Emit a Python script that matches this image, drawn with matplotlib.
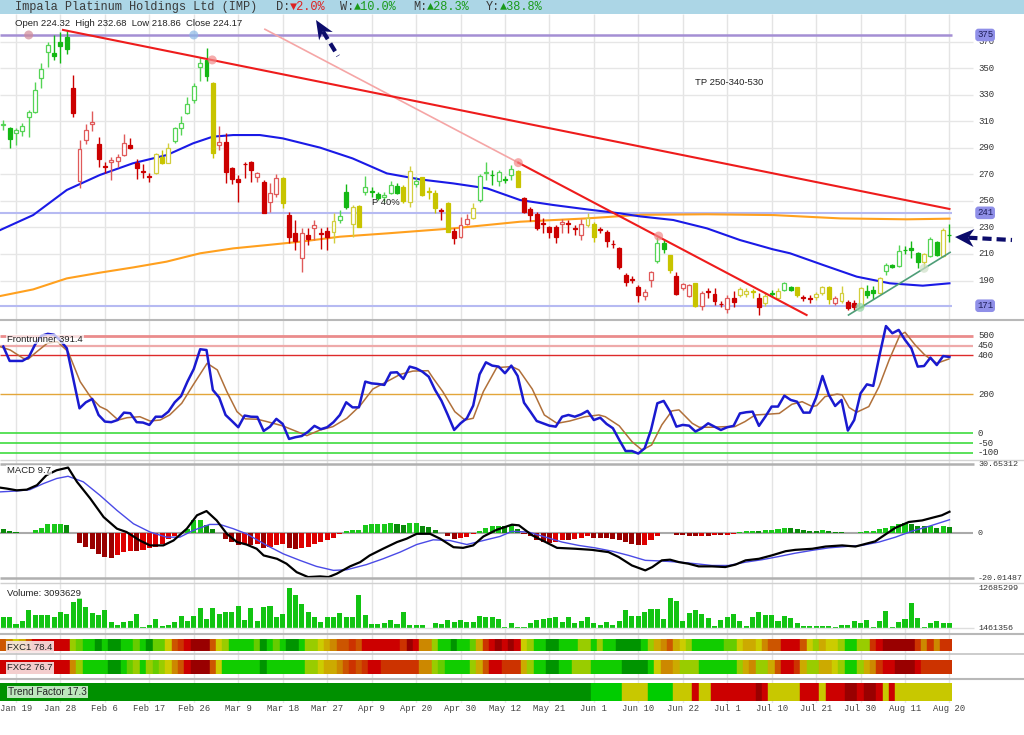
"""IMP daily chart: candles, Frontrunner, MACD, volume and the FXC / trend strips."""

import matplotlib
matplotlib.use("Agg")
import matplotlib.pyplot as plt
from matplotlib.patches import Rectangle, Polygon

# bar 0 = 15 Jan, bar 149 = 20 Aug (JSE trading days)
opens = [
    307.2, 305.2, 300.9, 302.7, 313.5, 317.2, 342.3, 362.4, 361.2, 370.0,
    373.7, 335.3, 265.0, 295.9, 307.7, 292.6, 276.3, 279.0, 280.0, 284.6,
    292.1, 278.8, 272.3, 268.5, 271.3, 283.3, 278.8, 295.4, 304.7, 316.5,
    326.0, 350.6, 356.2, 339.1, 292.4, 294.1, 274.5, 266.7, 278.0, 279.5,
    267.7, 264.5, 248.9, 255.2, 267.5, 239.4, 226.0, 206.7, 224.3, 229.3,
    225.8, 227.5, 226.8, 235.6, 256.4, 232.6, 246.1, 257.0, 257.3, 255.2,
    252.7, 255.7, 261.5, 260.7, 249.4, 262.7, 267.7, 257.3, 255.7, 242.9,
    248.6, 227.5, 223.0, 232.6, 236.8, 250.6, 270.7, 269.8, 265.0, 266.4,
    269.5, 272.5, 252.4, 243.6, 240.1, 233.3, 230.6, 230.1, 232.3, 233.3,
    229.5, 224.3, 231.8, 232.6, 228.8, 226.3, 217.8, 214.2, 194.1, 191.2,
    185.3, 178.6, 190.4, 204.9, 218.5, 209.0, 193.4, 184.6, 178.3, 187.9,
    170.8, 181.8, 179.8, 172.5, 168.3, 176.5, 178.8, 179.8, 181.8, 176.5,
    172.8, 180.5, 176.5, 182.8, 185.3, 184.8, 177.5, 176.7, 177.3, 180.3,
    185.3, 173.3, 174.8, 174.0, 173.3, 170.3, 182.3, 182.8, 180.3, 197.4,
    201.7, 200.9, 213.3, 214.5, 211.0, 204.2, 208.5, 219.0, 208.5, 224.32,
]
highs = [
    310.9, 305.9, 304.7, 308.4, 318.5, 339.8, 353.6, 370.0, 375.0, 377.5,
    378.8, 344.9, 295.9, 307.7, 318.0, 298.4, 279.5, 283.3, 285.3, 300.1,
    297.1, 281.3, 277.8, 270.7, 285.8, 288.3, 293.4, 305.9, 314.2, 328.5,
    339.1, 358.7, 364.9, 339.8, 306.4, 300.9, 275.8, 269.5, 279.5, 279.8,
    272.0, 265.7, 263.2, 270.2, 268.2, 241.9, 235.6, 229.3, 229.3, 235.6,
    229.3, 230.6, 241.0, 243.1, 262.5, 246.9, 246.9, 268.7, 260.7, 257.0,
    256.9, 265.2, 263.2, 261.9, 276.3, 268.2, 268.2, 260.7, 258.2, 244.4,
    249.4, 229.3, 238.1, 239.9, 248.6, 270.2, 279.5, 273.3, 273.3, 268.7,
    277.0, 273.3, 253.2, 245.1, 241.9, 236.8, 231.1, 231.8, 236.1, 235.6,
    231.8, 236.1, 240.6, 234.3, 230.6, 228.0, 220.5, 215.5, 195.4, 193.4,
    186.6, 183.3, 197.4, 223.0, 220.5, 209.5, 196.6, 187.9, 187.4, 188.4,
    182.3, 184.1, 184.1, 174.8, 179.1, 182.3, 185.3, 184.1, 183.3, 180.3,
    181.6, 182.8, 184.1, 189.1, 185.8, 185.3, 179.1, 179.1, 181.6, 185.8,
    185.8, 178.3, 185.8, 175.3, 175.3, 185.3, 186.6, 185.8, 192.9, 202.9,
    202.4, 216.7, 216.0, 220.0, 211.7, 210.5, 222.5, 219.5, 229.3, 232.68,
]
lows = [
    303.4, 289.6, 292.1, 298.9, 298.4, 316.0, 334.8, 351.1, 356.2, 354.1,
    360.4, 313.5, 259.4, 292.9, 302.7, 275.8, 270.7, 265.7, 275.8, 284.1,
    288.8, 266.2, 267.0, 264.5, 270.0, 277.8, 278.3, 293.9, 299.6, 315.5,
    323.5, 340.3, 340.3, 282.1, 288.3, 263.2, 262.7, 249.4, 267.0, 264.0,
    264.5, 240.6, 241.9, 253.2, 244.9, 218.0, 213.0, 196.1, 216.7, 220.5,
    213.5, 213.0, 218.0, 233.1, 243.6, 223.0, 230.1, 254.4, 253.2, 250.6,
    249.4, 254.9, 255.2, 248.6, 245.1, 260.7, 253.7, 251.2, 240.6, 235.6,
    226.3, 217.5, 221.8, 231.8, 236.1, 249.4, 265.7, 262.0, 261.2, 263.2,
    265.7, 260.2, 241.1, 235.1, 228.0, 225.5, 221.8, 218.5, 225.5, 225.5,
    224.3, 220.5, 230.6, 219.3, 225.5, 215.5, 214.2, 198.4, 185.8, 187.9,
    174.0, 175.3, 185.3, 202.9, 210.5, 195.9, 179.1, 182.8, 177.8, 170.3,
    167.8, 176.5, 171.5, 169.8, 165.2, 170.3, 177.8, 177.8, 176.5, 164.0,
    170.8, 177.8, 175.3, 182.3, 182.3, 177.8, 174.8, 173.3, 175.3, 179.1,
    172.3, 171.5, 173.3, 167.8, 167.8, 169.0, 176.5, 175.8, 179.8, 194.1,
    199.2, 199.9, 210.0, 206.7, 199.2, 199.2, 208.0, 208.5, 208.0, 218.86,
]
closes = [
    307.6, 296.6, 303.2, 306.4, 317.0, 333.5, 349.1, 367.5, 359.4, 366.7,
    364.2, 316.5, 288.8, 303.4, 309.2, 281.5, 275.6, 280.5, 283.3, 293.4,
    289.6, 275.0, 271.8, 268.0, 285.1, 278.3, 289.6, 304.7, 308.4, 322.7,
    336.6, 353.6, 344.3, 286.3, 294.1, 272.0, 266.7, 264.5, 277.6, 273.3,
    270.7, 240.8, 256.2, 267.5, 248.1, 223.0, 220.0, 225.5, 221.3, 231.8,
    225.3, 222.5, 234.6, 238.3, 245.1, 245.1, 230.6, 260.2, 256.8, 251.9,
    254.4, 261.7, 255.7, 249.9, 272.8, 265.0, 254.4, 256.8, 244.4, 242.4,
    226.8, 221.8, 231.8, 236.1, 244.4, 269.0, 272.0, 269.3, 271.5, 266.0,
    273.8, 260.7, 241.9, 239.4, 229.3, 232.8, 226.8, 223.0, 233.8, 232.8,
    229.0, 232.6, 236.8, 222.5, 228.3, 219.8, 217.3, 200.4, 189.1, 190.7,
    179.1, 181.6, 196.6, 218.5, 213.5, 197.9, 179.8, 187.1, 186.3, 170.8,
    180.3, 181.4, 174.8, 172.1, 176.5, 174.0, 183.8, 182.3, 181.4, 169.8,
    178.3, 180.1, 182.3, 188.4, 182.8, 179.1, 177.1, 176.3, 179.8, 185.3,
    175.8, 176.5, 180.3, 169.0, 170.3, 184.1, 179.1, 180.3, 191.6, 201.7,
    199.9, 212.5, 212.8, 213.0, 204.2, 210.0, 221.0, 208.9, 228.0, 224.17,
]
# candle tone from the chart's own trend colouring: g / y / r
candle_tone = ("gggggggggg" "grrrrrrrrr" "rrrryyyggg" "gggyrrrrrr" "rrrryrrrrr"
               "rryggyyggg" "gggyygyyyr" "yrrryggggg" "gyrrrrrrrr" "rryyrrrrrr"
               "rrrggyrrry" "rrrrrryyyr" "ygyggyrryy" "yryrryggyg" "gggggyggyg")

# moving averages, read at a few bars
ma_blue_idx = [-0.5, 4.7, 10, 15.2, 20.4, 25.8, 29.9, 33, 36.2, 40.4, 44, 49.9, 55,
               60.4, 65.6, 70.8, 76.2, 81.4, 86.6, 91.9, 97.1, 100.3, 105.5, 110.8,
               116, 121.2, 123.9, 129.1, 134.4, 139.6, 144.8, 149]
ma_blue_val = [228, 239.3, 258.2, 269.5, 278.3, 284.6, 293.4, 298.4, 299.6, 299.6,
               297.1, 290.1, 282, 270.7, 266.2, 263.2, 259.4, 250.6, 246.9, 243.6,
               240.6, 238.3, 235.6, 229.3, 220.5, 213.5, 210.5, 201.7, 192.9, 187.9,
               186.1, 187.9]
ma_orange_idx = [-0.5, 4.7, 10, 15.2, 20.5, 25.7, 31, 36.2, 41.5, 46.7, 53, 60.4, 70.9,
                 81.4, 91.9, 100.3, 110.8, 121.3, 131.8, 142.3, 149]
ma_orange_val = [178.3, 183.3, 191.6, 195.9, 199.9, 204.2, 210.5, 214.2, 216.7, 219.2,
                 223.0, 225.5, 229.3, 234.3, 236.8, 239.5, 239.9, 239.3, 236.8, 236.1,
                 236.6]
levels = [375, 241, 171]
price_ticks = [190, 210, 230, 250, 270, 290, 310, 330, 350, 370]

# drawn trendlines (bar, price) pairs
trend_red_a = ([9.4, 149], [378.8, 243.9])
trend_pink = ([41.2, 81.1], [379.3, 278.8])
trend_red_b = ([81.1, 126.5], [278.8, 164.0])
trend_green = ([133.1, 149.1], [164.0, 211.2])
pivot_idx = [4.0, 30.0, 32.9, 81.1, 103.2, 134.9, 145.0]
pivot_val = [375, 375, 356.2, 278.8, 223.5, 169.8, 199.2]
pivot_col = ["#d08a98", "#8ab8e6", "#f28a8a", "#f28a8a", "#f28a8a", "#8fd4a4", "#cfe0c8"]

frontrunner = [
    445, 371, 371, 371, 390, 455, 500, 510, 505, 475,
    436, 282, 128, 159, 176, 94, 60, 57, 68, 106,
    103, 57, 55, 43, 85, 85, 111, 159, 191, 265,
    330, 431, 427, 222, 183, 94, 63, 31, 91, 85,
    84, 12, 34, 74, 48, -29, -20, -14, 8, 38,
    21, 31, 57, 94, 159, 133, 133, 265, 256, 253,
    248, 311, 313, 279, 342, 333, 316, 290, 222, 167,
    94, 17, 51, 77, 142, 302, 364, 347, 342, 308,
    347, 294, 157, 111, 63, 51, 39, 34, 85, 94,
    85, 97, 115, 68, 80, 48, 26, -34, -91, -91,
    -104, -77, 17, 154, 166, 111, 34, 43, 39, 9,
    26, 51, 34, 17, 31, 38, 102, 108, 111, 38,
    85, 137, 137, 193, 171, 162, 106, 106, 183, 294,
    197, 140, 171, 14, 68, 205, 251, 243, 402, 550,
    513, 530, 479, 436, 342, 345, 388, 350, 396, 391.4,
]
fr_signal_idx = [-0.5, 1.1, 3.1, 3.9, 5.3, 6.9, 8.5, 10.2, 12.1, 13.7, 15.2, 16.3, 18.1,
                 19.5, 21.5, 23.1, 24.7, 26.2, 28.1, 29.9, 32.1, 33.7, 35.2, 36.8, 38.1,
                 40.0, 41.5, 44.0, 45.6, 47.8, 49.9, 51.9, 54.1, 56.2, 58.2, 60.4, 62.5,
                 64.5, 66.9, 67.7, 69.2, 71.1, 72.7, 74.0, 75.6, 77.7, 80.1, 81.2, 83.3,
                 85.2, 87.2, 89.2, 91.6, 93.8, 94.8, 97.0, 99.0, 100.6, 102.1, 103.7,
                 105.3, 106.4, 108.5, 109.6, 111.6, 113.7, 115.2, 116.8, 118.4, 120.0,
                 122.2, 124.2, 125.8, 127.4, 128.1, 129.4, 131.3, 132.1, 133.2, 134.4,
                 136.3, 137.9, 139.5, 141.2, 142.0, 143.6, 145.1, 147.0, 148.9]
fr_signal_val = [444, 427, 385, 380, 419, 461, 470, 419, 265, 188, 137, 120, 68,
                 80, 85, 63, 68, 94, 154, 248, 359, 325, 214, 111, 74,
                 72, 60, 38, 17, -12, 17, 34, 77, 142, 227, 265, 302,
                 319, 321, 282, 214, 111, 68, 77, 214, 337, 342, 325, 227,
                 94, 51, 63, 85, 94, 85, 38, -43, -86, -60, 43,
                 115, 120, 51, 31, 31, 34, 34, 60, 94, 97,
                 102, 149, 162, 137, 142, 188, 201, 197, 132, 108,
                 137, 239, 376, 504, 518, 453, 402, 359, 381]
fr_levels = [500, 450, 400, 200, 0, -50, -100]

macd_idx = [-0.5, 0.5, 2.1, 3.7, 5.3, 6.8, 8.4, 10.2, 11.6, 13.7, 15.8, 17.9, 19.4,
            21.5, 23.1, 25.2, 26.8, 28.9, 30.5, 32.0, 33.6, 35.2, 36.8, 38.3, 39.9,
            41.0, 43.1, 44.6, 46.2, 48.0, 49.9, 51.2, 52.5, 54.6, 56.2, 57.7, 59.8,
            62.0, 63.5, 65.1, 67.2, 68.8, 70.9, 72.4, 74.0, 75.6, 77.7, 80.1, 81.2,
            83.3, 85.4, 87.2, 90.1, 92.7, 95.3, 96.9, 99.0, 101.1, 102.2, 103.7,
            105.0, 106.4, 107.9, 109.5, 111.6, 113.7, 115.3, 116.9, 119.0, 121.0,
            123.2, 124.7, 127.4, 129.5, 132.1, 134.2, 135.8, 137.3, 138.9, 140.5,
            142.6, 144.7, 146.3, 147.8, 149.0]
macd_val = [20.5, 20.1, 19.3, 19.6, 21.6, 26.1, 28.3, 29.5, 23.1, 15.6, 7.3, 2.1, 0.6,
            -3.2, -5.4, -5.4, -3.2, 2.1, 8.1, 10.0, 5.8, -0.2, -3.9, -5.0, -6.9,
            -9.9, -11.4, -13.6, -17.4, -19.6, -19.3, -19.6, -18.1, -14.8, -12.9, -9.9, -6.9,
            -3.9, -2.4, -0.2, -0.2, -2.4, -6.2, -6.5, -5.4, -1.4, 1.6, 3.9, 3.6,
            -0.9, -3.9, -6.5, -6.9, -7.4, -8.4, -10.6, -14.4, -16.6, -15.1, -12.1,
            -11.8, -12.9, -13.6, -14.8, -14.8, -15.1, -14.0, -12.1, -11.4, -9.9,
            -8.0, -7.4, -6.9, -5.9, -5.4, -5.9, -4.7, -3.6, -0.5, 2.5,
            5.1, 5.8, 7.0, 8.1, 9.7]
macd_sig_idx = [-0.5, 2.1, 4.2, 6.3, 8.4, 10.2, 12.6, 15.2, 17.9, 20.5, 23.1, 25.7, 27.8,
                29.9, 32.5, 34.1, 36.2, 38.3, 41.5, 44.1, 46.7, 49.3, 52.0, 54.1, 57.2,
                59.8, 62.5, 65.1, 67.7, 70.3, 73.0, 75.6, 78.2, 80.1, 82.7, 85.4, 88.0,
                90.6, 93.2, 95.9, 98.5, 101.1, 103.7, 106.4, 109.0, 111.6, 114.2, 116.9,
                119.5, 122.1, 124.7, 127.4, 130.0, 132.6, 135.2, 137.9, 140.5, 143.1,
                145.7, 149.0]
macd_sig_val = [18.6, 19.0, 19.6, 22.3, 24.6, 25.6, 23.1, 17.1, 10.3, 4.3, 0.6, -1.7, -1.7,
                1.3, 4.0, 4.0, 2.1, -0.2, -5.4, -9.2, -12.1, -14.8, -16.6, -16.3, -14.0,
                -11.4, -8.4, -5.0, -2.9, -3.2, -5.0, -3.2, -1.4, 0.9, 0.6, -1.7, -3.9,
                -5.4, -6.5, -8.0, -9.9, -12.1, -12.4, -12.9, -13.6, -14.4, -14.4, -12.9,
                -11.8, -10.4, -8.9, -7.6, -6.5, -5.9, -5.4, -3.9, -1.7, 1.0,
                3.1, 6.1]
macd_hist = [
    1.8, 1.0, 0.6, 0.1, 0.1, 1.3, 2.5, 4.2, 4.3, 4.4,
    3.6, 0.2, -4.4, -6.2, -6.9, -9.2, -10.7, -11.0, -9.9, -8.4,
    -8.0, -8.0, -7.4, -6.5, -5.9, -4.7, -2.4, -1.4, 0.1, 2.1,
    5.8, 6.1, 3.6, 2.1, 0.1, -2.4, -3.9, -5.4, -4.7, -5.0,
    -4.9, -6.5, -5.9, -5.4, -4.7, -6.5, -6.9, -6.5, -5.9, -4.7,
    -3.9, -3.2, -2.0, -0.5, 1.0, 1.3, 1.6, 3.6, 4.2, 4.3,
    4.4, 4.5, 4.0, 3.6, 4.6, 4.7, 3.1, 2.8, 1.3, 0.1,
    -1.4, -2.4, -2.3, -1.7, -0.5, 1.0, 2.5, 3.1, 3.4, 3.1,
    3.6, 2.1, -0.5, -1.4, -2.9, -3.9, -4.4, -3.9, -3.2, -3.2,
    -2.4, -2.0, -1.4, -2.0, -2.0, -2.0, -2.4, -3.2, -3.9, -4.7,
    -5.4, -5.0, -3.2, -1.1, 0.1, 0.1, -0.8, -0.9, -1.1, -1.4,
    -1.1, -1.1, -0.9, -0.9, -0.6, -0.2, 0.7, 0.9, 1.0, 1.0,
    1.3, 1.6, 1.8, 2.2, 2.2, 1.9, 1.3, 1.0, 1.0, 1.3,
    1.0, 0.7, 0.7, 0.1, 0.1, 0.7, 0.9, 1.0, 1.8, 2.5,
    3.1, 4.0, 4.6, 4.3, 3.1, 3.1, 3.4, 2.4, 3.1, 2.8,
]
macd_top, macd_bottom = 30.65312, -20.01487

volume_m = [  # millions of shares
    4.88, 4.88, 2.77, 3.69, 6.72, 5.34, 5.34, 5.34, 4.88, 6.07,
    5.61, 9.01, 9.93, 7.63, 5.79, 5.34, 6.72, 3.32, 2.58, 3.32,
    3.78, 5.52, 2.12, 2.58, 4.14, 2.40, 2.67, 3.32, 5.15, 3.69,
    5.15, 7.36, 4.33, 7.17, 5.61, 6.26, 6.26, 7.82, 3.96, 7.17,
    3.69, 7.63, 7.91, 4.69, 5.61, 12.685299, 10.85, 8.28, 6.07, 4.88,
    3.50, 4.88, 4.69, 5.79, 4.88, 4.69, 10.85, 5.34, 2.77, 2.86,
    3.04, 3.96, 2.86, 6.26, 2.58, 2.58, 2.58, 1.461356, 3.04, 2.77,
    3.96, 3.50, 3.96, 3.50, 3.50, 5.06, 4.88, 4.69, 4.23, 2.12,
    3.04, 2.12, 2.12, 3.22, 3.96, 4.14, 4.42, 4.88, 3.32, 4.69,
    3.04, 3.69, 4.88, 3.04, 2.58, 3.32, 2.58, 3.78, 6.72, 5.15,
    5.15, 6.07, 6.99, 6.90, 4.14, 10.12, 9.20, 3.69, 5.79, 6.72,
    5.52, 4.60, 2.40, 3.96, 4.69, 5.61, 3.78, 2.40, 4.88, 6.26,
    5.34, 5.34, 3.69, 5.15, 4.42, 3.04, 2.40, 2.40, 2.40, 2.40,
    2.40, 2.12, 2.58, 2.58, 3.69, 3.22, 3.96, 2.12, 3.69, 6.44,
    2.12, 3.32, 4.23, 8.55, 4.60, 2.12, 3.04, 3.69, 3.04, 3.093629,
]
vol_max, vol_min = 12685299, 1461356

# FXC heat strips, level 0 (deep red) .. 10 (deep green)
fxc1 = [
    3, 4, 6, 5, 3, 1, 1, 1, 1, 1,
    1, 7, 8, 9, 9, 10, 9, 10, 10, 9,
    9, 8, 9, 10, 8, 8, 6, 3, 2, 1,
    0, 0, 0, 3, 6, 7, 9, 9, 9, 9,
    8, 10, 9, 8, 9, 10, 10, 9, 7, 7,
    6, 5, 4, 3, 3, 2, 3, 1, 1, 1,
    1, 1, 1, 2, 0, 1, 4, 4, 7, 9,
    9, 10, 9, 9, 8, 5, 2, 1, 0, 1,
    0, 1, 6, 7, 9, 9, 10, 10, 9, 9,
    9, 7, 7, 9, 7, 9, 9, 10, 10, 10,
    10, 9, 7, 5, 4, 3, 5, 6, 7, 9,
    9, 9, 9, 9, 8, 8, 6, 5, 5, 6,
    4, 3, 3, 1, 1, 1, 3, 6, 7, 5,
    6, 6, 7, 9, 9, 7, 7, 2, 1, 0,
    0, 0, 0, 0, 2, 4, 2, 4, 2, 2,
]
fxc2 = [
    1, 1, 1, 1, 1, 1, 1, 1, 1, 1,
    1, 4, 7, 9, 9, 9, 9, 10, 10, 9,
    8, 7, 9, 7, 8, 7, 6, 4, 3, 1,
    0, 0, 0, 3, 6, 9, 9, 9, 9, 9,
    9, 10, 9, 9, 9, 9, 9, 9, 7, 7,
    6, 5, 5, 4, 3, 2, 3, 2, 1, 1,
    2, 2, 2, 2, 2, 2, 4, 4, 7, 8,
    9, 9, 9, 9, 7, 5, 3, 1, 1, 2,
    2, 2, 5, 7, 9, 9, 10, 10, 9, 9,
    7, 7, 7, 9, 9, 9, 9, 9, 10, 10,
    10, 10, 9, 6, 4, 4, 5, 7, 7, 7,
    9, 9, 9, 9, 9, 9, 7, 5, 4, 7,
    7, 5, 3, 1, 1, 2, 5, 7, 7, 5,
    5, 6, 7, 9, 9, 7, 5, 4, 2, 1,
    1, 0, 0, 0, 1, 2, 2, 2, 2, 2,
]
# trend factor: D deep green, G green, Y yellow, R red, K dark red
trend_factor = ("D" * 93 + "GGGGG" "YYYY" "GGGG" "YYY" "R" "YY" "RRRRRRR" "K" "R"
                "YYYYY" "RRR" "Y" "RRR" "KK" "R" "KK" "R" "Y" "R" "YYYYYYYYY")

tick_idx = [2, 9, 16, 23, 30, 37, 44, 51, 58, 65, 72, 79, 86, 93, 100, 107, 114,
            121, 128, 135, 142, 149]
tick_lab = ["Jan 19", "Jan 28", "Feb 6", "Feb 17", "Feb 26", "Mar 9", "Mar 18",
            "Mar 27", "Apr 9", "Apr 20", "Apr 30", "May 12", "May 21", "Jun 1",
            "Jun 10", "Jun 22", "Jul 1", "Jul 10", "Jul 21", "Jul 30", "Aug 11",
            "Aug 20"]

# ---- styling ----
W, H = 1024, 735
PLOT_R = 952
XR = 978 / PLOT_R   # right-hand labels
XG = 973 / PLOT_R   # grid / level lines run a bit past the plot
SANS = ["Liberation Sans", "DejaVu Sans"]
MONO = ["Liberation Mono", "DejaVu Sans Mono"]
FILLED = {"g": "#14b814", "r": "#cc0000", "y": "#c8c400"}
HOLLOW = {"g": "#55d455", "r": "#e05a5a", "y": "#d2ce3c"}
LEVEL_COL = ["#990000", "#cc0000", "#cc3300", "#cc5500", "#cc8800", "#ccaa00",
             "#cccc00", "#99cc00", "#66cc00", "#11cc00", "#009400"]
TF_COL = {"D": "#009000", "G": "#00cc00", "Y": "#c8c800", "R": "#cc0000", "K": "#990000"}
NAVY = "#0b0b6b"

fig = plt.figure(figsize=(W / 100, H / 100), dpi=100)
idx = list(range(len(closes)))


def panel(top, bottom):
    ax = fig.add_axes([0, 1 - bottom / H, PLOT_R / W, (bottom - top) / H])
    ax.set_xlim(-0.52, 149.4)
    ax.set_facecolor("none")
    for s in ax.spines.values():
        s.set_visible(False)
    ax.set_xticks([])
    ax.set_yticks([])
    return ax


def rlabel(ax, y, text, size=6.5, **kw):
    ax.text(XR, y, text, transform=ax.get_yaxis_transform(), ha="left", va="center",
            fontsize=size, family=MONO, color="#333333", clip_on=False, **kw)


def hline(ax, y, color, lw, x1=1.0, z=1):
    ax.plot([0, x1], [y, y], transform=ax.get_yaxis_transform(), color=color, lw=lw,
            clip_on=False, zorder=z, solid_capstyle="butt")


# vertical grid behind everything
bg = panel(14, 703)
bg.set_ylim(0, 1)
bg.vlines(tick_idx, 0, 1, color="#e4e4e4", lw=1)

# ---- price ----
ax = panel(14, 319)
ax.set_ylim(161.0, 390.8)
for v in price_ticks:
    hline(ax, v, "#e6e6e6", 1, x1=XG, z=0)
    rlabel(ax, v, str(v))
hline(ax, levels[0], "#a48fd4", 1.8, z=1)
hline(ax, levels[1], "#b6baf2", 1.5, z=1)
hline(ax, levels[2], "#b6baf2", 1.5, z=1)
for v in levels:
    ax.text(XR - 0.001, v, str(v), transform=ax.get_yaxis_transform(), ha="left",
            va="center", fontsize=6.5, family=MONO, color="#1e1e5a", clip_on=False,
            zorder=6,
            bbox=dict(boxstyle="round,pad=0.2,rounding_size=0.35", fc="#8f8fe8", ec="none"))

ax.plot(ma_orange_idx, ma_orange_val, color="#ffa01e", lw=1.5, zorder=2)
ax.plot(ma_blue_idx, ma_blue_val, color="#1a1ae6", lw=1.5, zorder=2)

for i in idx:
    o, h, l, c = opens[i], highs[i], lows[i], closes[i]
    up = c > o
    col = HOLLOW[candle_tone[i]] if up else FILLED[candle_tone[i]]
    ax.vlines(i, l, h, color=col, lw=1, zorder=3)
    ax.bar(i, max(abs(c - o), 0.35), bottom=min(o, c), width=0.62,
           facecolor="white" if up else col, edgecolor=col, lw=0.9, zorder=4)

ax.plot(*trend_pink, color="#f5a6a6", lw=1.2, zorder=5)
ax.plot(*trend_red_a, color="#ee1c1c", lw=1.5, zorder=5)
ax.plot(*trend_red_b, color="#ee1c1c", lw=1.5, zorder=5)
ax.plot(*trend_green, color="#4e9e78", lw=1.2, zorder=5)
ax.scatter(pivot_idx, pivot_val, s=42, c=pivot_col, alpha=0.7, edgecolors="none", zorder=6)

# ---- Frontrunner ----
fr = panel(320, 460)
fr.set_ylim(-137, 581)
fr_style = {500: ("#ea8c8c", 2.0), 450: ("#eeaaaa", 1.6), 400: ("#dd2a2a", 1.0),
            200: ("#e3a63a", 1.0), 0: ("#3edc3e", 1.2), -50: ("#3edc3e", 1.2),
            -100: ("#3edc3e", 1.2)}
for v in fr_levels:
    hline(fr, v, fr_style[v][0], fr_style[v][1], x1=XG)
    rlabel(fr, v, str(v))
fr.plot(fr_signal_idx, fr_signal_val, color="#b0703a", lw=1.1, zorder=3)
fr.plot(idx, frontrunner, color="#1a1ad0", lw=1.8, zorder=4)

# ---- MACD ----
md = panel(465, 578)
md.set_ylim(macd_bottom, macd_top)
hline(md, 0, "#aaaaaa", 1.5, x1=XG)
hist_col = []
prev = None
for v in macd_hist:
    rising = prev is not None and v > prev
    if v >= 0:
        hist_col.append("#19c819" if rising else "#0a8a0a")
    else:
        hist_col.append("#dd0000" if rising else "#990000")
    prev = v
md.bar(idx, macd_hist, width=0.8, color=hist_col, zorder=2)
md.plot(macd_sig_idx, macd_sig_val, color="#4a4ae6", lw=1.0, zorder=3)
md.plot(macd_idx, macd_val, color="black", lw=1.6, zorder=4)
rlabel(md, macd_top, f"{macd_top:.5f}", size=6.0)
rlabel(md, 0, "0", size=6.0)
rlabel(md, macd_bottom, f"{macd_bottom:.5f}", size=6.0)

# ---- volume ----
vo = panel(584, 628)
vo.set_ylim(1.737e6, 13.87e6)
vo.bar(idx, [v * 1e6 for v in volume_m], width=0.8, color="#12c412", zorder=2)
rlabel(vo, vol_max, str(vol_max), size=6.0)
rlabel(vo, vol_min, str(vol_min), size=6.0)

# ---- strips ----
for top, bottom, vals in [(639, 650.5, fxc1), (660, 673.5, fxc2)]:
    st = panel(top, bottom)
    st.set_ylim(0, 1)
    cols = [LEVEL_COL[v] for v in vals]
    st.bar(idx, 1, width=1.0, color=cols, edgecolor=cols, lw=0.3)
tf = panel(683, 701)
tf.set_ylim(0, 1)
cols = [TF_COL[ch] for ch in trend_factor]
tf.bar(idx, 1, width=1.0, color=cols, edgecolor=cols, lw=0.3)
tf.set_xticks(tick_idx)
tf.set_xticklabels(tick_lab, family=MONO, fontsize=6.4, color="#444444")
tf.tick_params(axis="x", length=0, pad=2)

# ---- overlay in pixel coordinates: header, separators, captions, arrows ----
ov = fig.add_axes([0, 0, 1, 1], zorder=10)
ov.set_xlim(0, W)
ov.set_ylim(H, 0)
ov.axis("off")

ov.add_patch(Rectangle((0, 0), W, 14, color="#acd6e6", lw=0))
hdr = dict(family=MONO, fontsize=8.6, va="center", ha="left")
ov.text(15, 7, "Impala Platinum Holdings Ltd (IMP)", color="#3a3a3a", **hdr)
for x, lab, chg, col in [(276, "D:", "\u25bc2.0%", "#dd2222"),
                         (340, "W:", "\u25b210.0%", "#1a9a1a"),
                         (413, "M:", "\u25b228.3%", "#1a9a1a"),
                         (486, "Y:", "\u25b238.8%", "#1a9a1a")]:
    ov.text(x, 7, lab, color="#3a3a3a", **hdr)
    ov.text(x + 14.3, 7, chg, color=col, **hdr)

# panel separators: (y, colour, width, right end)
for y, col, lw, x1 in [(319.5, "#b8b8b8", 1.5, W), (460.0, "#d4d4d4", 1.0, W),
                       (464.3, "#b0b0b0", 1.8, 974), (577.7, "#b0b0b0", 1.8, 974),
                       (583.3, "#d0d0d0", 1.0, W), (628.3, "#dedede", 1.0, 974),
                       (633.5, "#b8b8b8", 1.5, W), (654.0, "#c4c4c4", 1.2, W),
                       (678.5, "#b8b8b8", 1.5, W)]:
    ov.plot([0, x1], [y, y], color=col, lw=lw, solid_capstyle="butt")

cap = dict(family=SANS, fontsize=6.8, va="center", ha="left", color="#222222")
ov.text(15, 23, "Open 224.32  High 232.68  Low 218.86  Close 224.17", **cap)
ov.text(695, 82, "TP 250-340-530", **cap)
ov.text(372, 202, "P 40%", **cap)
ov.text(7, 339, "Frontrunner 391.4",
        bbox=dict(fc="white", ec="none", alpha=0.7, pad=0.6), **cap)
ov.text(7, 470, "MACD 9.7", bbox=dict(fc="white", ec="none", alpha=0.7, pad=0.6), **cap)
ov.text(7, 594, "Volume: 3093629",
        bbox=dict(fc="white", ec="none", alpha=0.7, pad=0.6), **cap)
ov.text(7, 647, "FXC1 78.4", bbox=dict(fc="#f8e6e6", ec="none", alpha=0.9, pad=0.8), **cap)
ov.text(7, 668, "FXC2 76.7", bbox=dict(fc="#f8e6e6", ec="none", alpha=0.9, pad=0.8), **cap)
ov.text(8, 692, "Trend Factor 17.3", family=SANS, fontsize=7.2, va="center", ha="left",
        color="#222222", bbox=dict(fc="#c8ecc8", ec="none", alpha=0.95, pad=1.0))


def dashed_arrow(tip, tail, head_len, half_w):
    dx, dy = tip[0] - tail[0], tip[1] - tail[1]
    n = (dx * dx + dy * dy) ** 0.5
    ux, uy = dx / n, dy / n
    bx, by = tip[0] - head_len * ux, tip[1] - head_len * uy
    px, py = -uy, ux
    notch = (bx + 0.3 * head_len * ux, by + 0.3 * head_len * uy)
    ov.add_patch(Polygon([tip, (bx + half_w * px, by + half_w * py), notch,
                          (bx - half_w * px, by - half_w * py)], closed=True,
                         color=NAVY, lw=0))
    ov.plot([bx + 0.3 * head_len * ux, tail[0]], [by + 0.3 * head_len * uy, tail[1]],
            color=NAVY, lw=3, dashes=(2.2, 1.2), solid_capstyle="butt")


dashed_arrow((316, 20), (338, 56), 19, 8)
dashed_arrow((955, 237), (1012, 240), 19, 9)

fig.savefig("out.png", dpi=100)
plt.close(fig)
